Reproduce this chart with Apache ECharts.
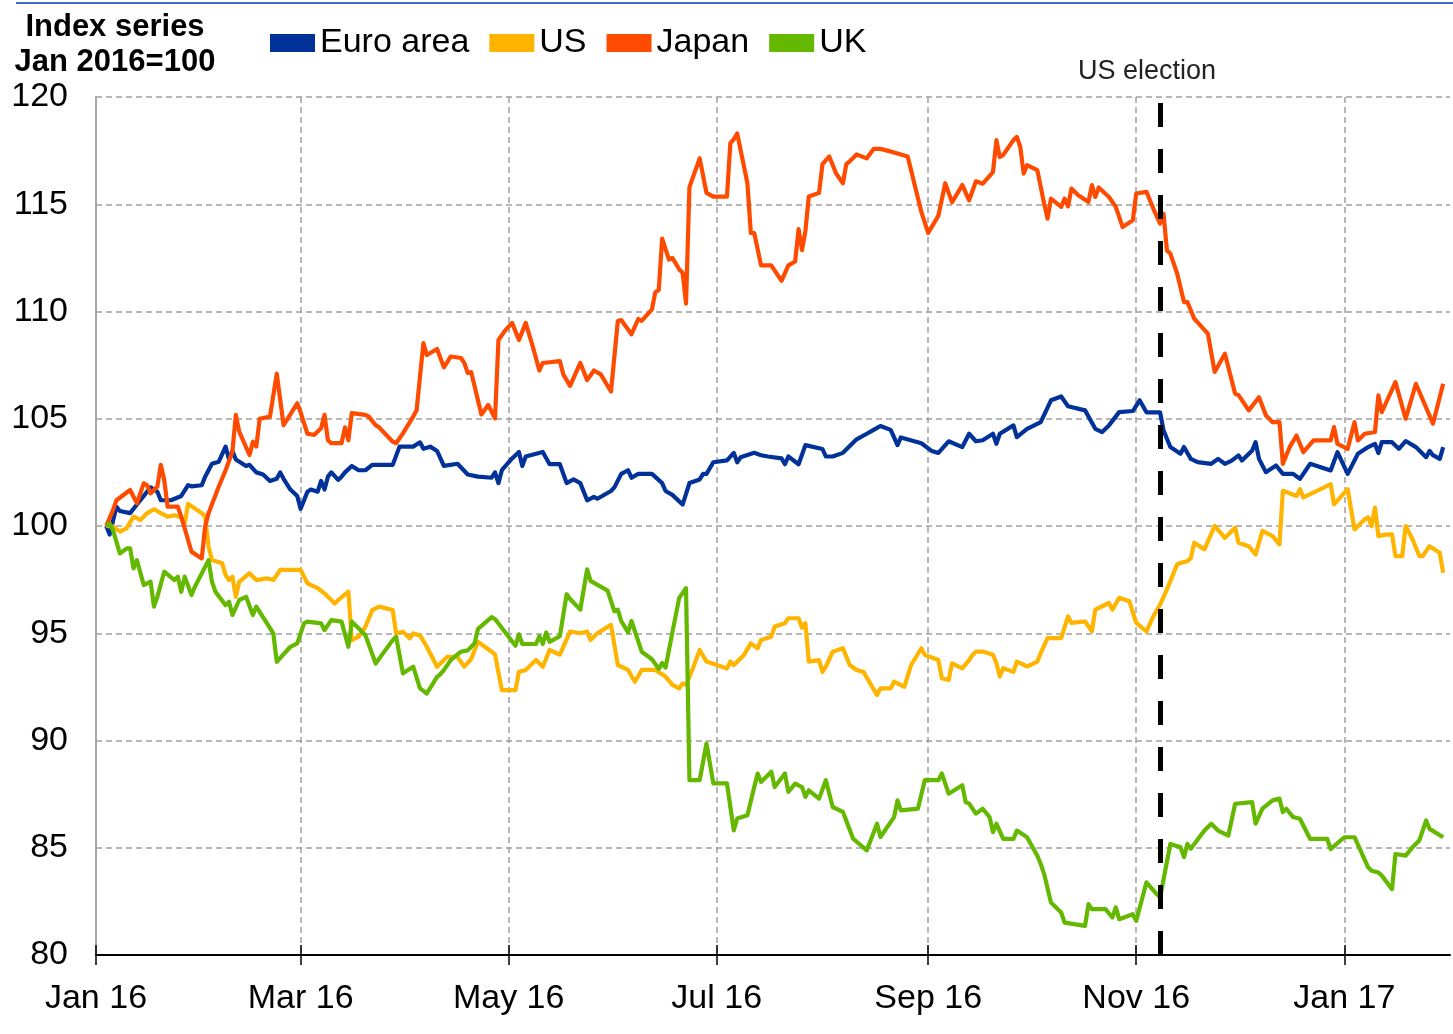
<!DOCTYPE html>
<html>
<head>
<meta charset="utf-8">
<title>Index series</title>
<script src="https://cdn.jsdelivr.net/npm/echarts@6/dist/echarts.min.js"></script>
<style>
  html, body { margin: 0; padding: 0; background: #fff; }
  #chart { width: 1453px; height: 1034px; }
</style>
</head>
<body>
<div id="chart"></div>
<script>
// x values are days counted from 1 Jan 2016
const tickDays = [0, 60, 121, 182, 244, 305, 366]
const tickLabels = ['Jan 16', 'Mar 16', 'May 16', 'Jul 16', 'Sep 16', 'Nov 16', 'Jan 17']
const electionDay = 312
const seriesNames = ['Euro area', 'US', 'Japan', 'UK']
const seriesColors = ['#003299', '#ffb400', '#ff4b00', '#65b800']

const euroArea = [
  [3,100],[4,99.6],[6,100.9],[7,100.7],[10,100.6],[12,101.0],[15,101.6],[16,101.8],[18,101.6],[19,101.2],
  [22,101.2],[25,101.4],[27,101.9],[28,101.85],[31,101.9],[32,102.3],[34,102.9],[36,103.0],[38,103.7],[39,103.1],
  [40,103.5],[41,103.1],[44,102.8],[45,102.85],[47,102.5],[49,102.4],[51,102.1],[53,102.2],[54,102.5],[55,102.2],
  [57,101.7],[59,101.4],[60,100.8],[62,101.6],[63,101.7],[65,101.6],[66,102.1],[67,101.7],[68,102.3],[69,102.5],
  [71,102.15],[72,102.3],[73,102.5],[75,102.8],[77,102.6],[79,102.6],[81,102.85],[87,102.85],[89,103.7],[93,103.7],
  [95,103.9],[96,103.6],[98,103.7],[100,103.5],[102,102.8],[106,102.9],[109,102.4],[112,102.3],[116,102.25],[117,102.5],
  [118,102.0],[119,102.6],[122,103.15],[124,103.45],[125,102.8],[126,103.24],[131,103.45],[133,102.88],[136,102.88],[138,102.0],
  [140,102.17],[142,102.0],[144,101.2],[146,101.36],[147,101.27],[151,101.63],[152,101.8],[154,102.43],[156,102.6],[157,102.25],
  [159,102.43],[163,102.43],[166,102.0],[167,101.63],[169,101.45],[170,101.3],[172,101.0],[174,102.0],[177,102.17],[178,102.43],
  [179,102.43],[181,102.97],[185,103.06],[187,103.41],[188,102.97],[189,103.2],[193,103.41],[195,103.3],[197,103.24],[201,103.15],
  [202,102.88],[203,103.24],[206,102.88],[208,103.77],[213,103.59],[214,103.24],[216,103.24],[219,103.41],[223,104.04],[226,104.3],
  [228,104.48],[230,104.66],[233,104.48],[234,104.13],[235,103.77],[236,104.13],[242,103.86],[245,103.5],[247,103.41],[250,103.95],
  [254,103.68],[256,104.3],[258,103.95],[260,104.0],[263,104.3],[264,103.83],[265,104.3],[269,104.69],[270,104.14],[273,104.53],
  [277,104.84],[280,105.86],[283,106.04],[285,105.58],[290,105.39],[293,104.53],[295,104.38],[297,104.69],[300,105.31],[304,105.36],
  [306,105.86],[308,105.3],[312,105.3],[313,104.46],[315,103.68],[318,103.37],[319,103.68],[321,103.13],[323,102.98],[327,102.9],
  [329,103.13],[331,102.9],[333,103.05],[335,103.29],[336,103.05],[339,103.52],[340,103.91],[341,103.13],[343,102.51],[346,102.82],
  [348,102.43],[351,102.43],[353,102.2],[356,102.9],[362,102.59],[364,103.44],[367,102.43],[370,103.37],[373,103.68],[375,103.83],
  [376,103.4],[377,103.91],[380,103.91],[382,103.6],[384,103.96],[387,103.68],[390,103.21],[391,103.5],[392,103.3],[394,103.13],
  [395,103.68]
]

const us = [
  [3,100],[5,99.97],[7,99.74],[9,99.9],[11,100.44],[13,100.28],[15,100.6],[17,100.78],[19,100.6],[21,100.44],
  [23,100.5],[25,100.4],[26,100.12],[27,101.03],[29,100.82],[31,100.6],[32,100.44],[33,99.04],[34,98.41],[37,98.26],
  [38,97.71],[39,97.48],[40,97.64],[41,96.7],[42,97.4],[45,97.8],[47,97.48],[50,97.56],[52,97.48],[54,97.95],
  [60,97.95],[62,97.33],[65,97.1],[67,96.86],[70,96.39],[71,96.55],[74,96.94],[75,94.68],[77,94.84],[79,95.3],
  [81,96.08],[83,96.24],[87,96.08],[88,94.99],[90,95.07],[92,94.76],[93,94.99],[95,94.9],[97,94.37],[100,93.44],
  [103,93.9],[106,93.9],[108,93.44],[110,93.8],[111,94.21],[112,94.6],[116,94.14],[117,94.0],[119,92.35],[123,92.35],
  [124,93.2],[126,93.29],[129,93.75],[131,93.44],[133,94.22],[136,94.0],[139,95.08],[142,95.0],[144,95.08],[145,94.69],
  [147,95.0],[151,95.39],[153,93.52],[156,93.29],[158,92.74],[160,93.29],[164,93.29],[167,92.98],[169,92.59],[171,92.43],
  [172,92.66],[173,92.59],[175,93.36],[177,94.22],[179,93.68],[182,93.52],[185,93.36],[186,93.68],[187,93.52],[190,93.99],
  [192,94.53],[194,94.3],[195,94.69],[198,94.84],[199,95.31],[202,95.47],[203,95.7],[206,95.7],[207,95.25],[208,95.47],
  [209,93.68],[212,93.75],[213,93.2],[214,93.44],[216,94.14],[219,94.3],[221,93.52],[223,93.29],[225,93.2],[229,92.12],
  [230,92.43],[233,92.43],[234,92.74],[235,92.66],[237,92.5],[239,93.52],[242,94.3],[243,93.99],[247,93.75],[248,92.9],
  [250,92.82],[251,93.6],[254,93.36],[256,93.75],[257,93.99],[258,94.14],[260,94.15],[263,94.0],[264,93.6],[265,92.98],
  [266,93.37],[269,93.2],[270,93.68],[273,93.45],[276,93.68],[277,94.07],[279,94.77],[283,94.77],[285,95.79],[286,95.48],
  [290,95.55],[292,95.09],[293,96.1],[297,96.41],[298,96.1],[300,96.65],[303,96.49],[305,95.48],[308,95.09],[310,95.79],
  [312,96.33],[314,97.04],[317,98.21],[318,98.28],[320,98.36],[321,98.5],[322,99.22],[325,98.91],[328,100.0],[331,99.45],
  [334,99.92],[335,99.22],[338,99.06],[340,98.67],[342,99.77],[345,99.53],[347,99.14],[348,101.64],[352,101.4],[353,101.72],
  [354,101.33],[358,101.64],[362,101.95],[363,101.01],[367,101.72],[369,99.84],[372,100.31],[373,100.4],[374,100.0],[375,100.86],
  [376,99.53],[378,99.6],[380,99.61],[381,98.6],[383,98.6],[384,100.0],[386,99.38],[388,98.6],[389,98.6],[391,99.06],
  [394,98.75],[395,97.82]
]

const japan = [
  [3,100],[5,100.75],[6,101.2],[10,101.68],[12,101.06],[14,101.99],[15,101.9],[16,101.52],[18,101.84],[19,102.85],
  [20,102.15],[21,100.9],[24,100.9],[25,100.44],[28,98.8],[29,98.7],[31,98.49],[32,99.97],[33,100.6],[36,101.84],
  [38,102.6],[40,103.47],[41,105.18],[42,104.4],[45,103.31],[46,103.93],[47,103.7],[48,105.0],[51,105.1],[53,107.1],
  [55,104.7],[59,105.72],[60,105.3],[62,104.3],[64,104.25],[66,104.56],[67,105.18],[68,104.0],[69,103.86],[72,103.86],
  [73,104.6],[74,104.0],[75,105.26],[79,105.18],[80,105.1],[82,104.7],[83,104.6],[87,103.93],[88,103.86],[90,104.32],
  [93,105.1],[94,105.4],[96,108.53],[97,107.97],[100,108.25],[102,107.4],[104,107.9],[107,107.83],[108,107.6],[109,107.13],
  [110,107.18],[113,105.2],[115,105.64],[117,105.02],[118,108.67],[120,109.12],[122,109.47],[124,108.67],[126,109.47],[128,108.4],
  [130,107.25],[131,107.6],[136,107.69],[137,107.07],[139,106.53],[142,107.6],[144,106.8],[146,107.25],[148,107.07],[151,106.27],
  [153,109.56],[154,109.6],[157,108.94],[159,109.65],[160,109.56],[163,110.1],[164,110.9],[165,111.0],[166,113.4],[168,112.42],
  [169,112.5],[171,111.97],[172,111.8],[173,110.37],[174,115.8],[177,117.14],[179,115.53],[181,115.36],[185,115.36],[186,117.85],
  [187,118.03],[188,118.3],[191,115.98],[192,113.66],[193,113.66],[195,112.15],[198,112.15],[201,111.43],[203,112.15],[205,112.33],
  [206,113.84],[207,112.86],[208,113.75],[209,115.36],[212,115.53],[213,116.87],[215,117.23],[217,116.43],[219,115.98],[220,116.87],
  [221,117.0],[223,117.32],[226,117.14],[228,117.58],[230,117.58],[232,117.5],[234,117.41],[236,117.32],[238,117.23],[242,114.64],
  [244,113.66],[247,114.47],[249,115.98],[251,115.09],[254,115.9],[256,115.18],[258,116.07],[260,115.96],[263,116.5],[264,117.99],
  [265,117.2],[266,117.3],[269,117.99],[270,118.14],[271,117.67],[272,116.43],[273,116.82],[276,116.59],[278,115.03],[279,114.33],
  [280,115.26],[283,114.88],[284,115.26],[285,114.9],[286,115.73],[288,115.42],[291,115.11],[292,115.89],[293,115.34],[294,115.78],
  [297,115.34],[299,114.88],[301,113.94],[304,114.25],[305,115.5],[308,115.58],[310,114.8],[312,114.1],[313,114.56],[314,112.85],
  [315,112.7],[317,111.77],[319,110.44],[320,110.44],[322,109.67],[326,108.97],[328,107.18],[331,108.03],[334,106.17],[335,106.1],
  [338,105.39],[341,106.0],[343,105.16],[345,104.84],[347,104.84],[348,102.9],[350,103.68],[352,104.22],[354,103.44],[357,103.99],
  [362,103.99],[363,104.61],[364,103.83],[367,103.6],[369,104.84],[370,103.99],[372,104.3],[375,104.38],[376,106.09],[377,105.31],
  [381,106.71],[384,105.0],[387,106.63],[392,104.77],[395,106.63]
]

const uk = [
  [3,100],[4,100.12],[5,99.8],[7,98.72],[9,98.96],[10,98.96],[11,98.02],[12,98.41],[14,97.25],[16,97.4],
  [17,96.24],[18,96.7],[20,97.87],[23,97.48],[24,97.64],[25,96.93],[26,97.64],[28,96.78],[29,97.17],[33,98.41],
  [34,97.4],[35,96.94],[38,96.31],[39,96.47],[40,95.85],[42,96.55],[44,96.7],[46,95.85],[47,96.24],[52,94.99],
  [53,93.67],[57,94.37],[59,94.53],[61,95.46],[62,95.54],[66,95.46],[67,95.15],[69,95.61],[72,95.54],[74,94.37],
  [75,95.54],[77,95.23],[79,94.91],[82,93.59],[87,94.68],[88,94.84],[90,93.13],[93,93.44],[95,92.43],[97,92.19],
  [100,92.97],[101,93.1],[102,93.28],[104,93.75],[107,94.14],[109,94.2],[111,94.53],[112,95.2],[116,95.75],[117,95.66],
  [123,94.42],[124,94.95],[125,94.5],[129,94.5],[130,94.86],[131,94.5],[132,95.04],[133,94.6],[136,94.86],[138,96.82],
  [139,96.6],[142,96.1],[144,97.98],[145,97.44],[150,96.99],[152,96.02],[153,96.1],[154,95.57],[156,95.04],[157,95.57],
  [160,94.14],[163,93.79],[165,93.34],[166,93.61],[167,93.4],[169,95.04],[171,96.65],[173,97.1],[174,88.15],[177,88.15],
  [179,89.86],[181,88.0],[185,88.0],[187,85.81],[188,86.36],[191,86.51],[193,87.83],[194,88.46],[195,88.07],[198,88.54],
  [199,87.83],[202,88.46],[203,87.6],[205,87.99],[207,87.83],[208,87.37],[209,87.68],[212,87.29],[214,88.15],[216,86.9],
  [219,86.67],[222,85.42],[226,84.88],[229,86.12],[230,85.5],[234,86.43],[235,87.21],[236,86.74],[241,86.82],[243,88.15],
  [247,88.15],[248,88.46],[250,87.52],[254,87.91],[255,87.13],[256,87.06],[258,86.59],[260,86.82],[262,86.43],[263,85.73],
  [264,86.12],[266,85.41],[269,85.41],[270,85.8],[273,85.49],[276,84.63],[277,84.24],[278,83.78],[280,82.45],[283,81.98],
  [284,81.51],[290,81.36],[291,82.37],[292,82.14],[296,82.14],[298,81.75],[299,82.22],[300,81.67],[304,81.9],[305,81.59],
  [308,83.39],[311,82.84],[312,82.68],[315,85.18],[318,85.02],[319,84.56],[320,85.18],[321,84.95],[325,85.8],[327,86.12],
  [329,85.8],[332,85.57],[334,87.05],[339,87.13],[340,86.12],[342,86.82],[345,87.21],[347,87.29],[348,86.66],[349,86.82],
  [351,86.43],[353,86.35],[356,85.41],[361,85.41],[362,84.94],[366,85.49],[369,85.49],[373,84.09],[374,83.93],[376,83.85],
  [377,83.7],[380,83.07],[381,84.71],[384,84.63],[386,85.02],[388,85.34],[390,86.27],[391,85.88],[395,85.49]
]

const seriesData = [euroArea, us, japan, uk]
const font = '"Liberation Sans", Arial, sans-serif'

const chart = echarts.init(document.getElementById('chart'))

const series = seriesNames.map((name, i) => ({
  name: name,
  type: 'line',
  data: seriesData[i],
  color: seriesColors[i],
  showSymbol: false,
  symbol: 'none',
  lineStyle: { width: 4.2, color: seriesColors[i], join: 'round' }
}))

// US election marker
series[3].markLine = {
  silent: true,
  symbol: 'none',
  animation: false,
  lineStyle: { color: '#000', width: 5, type: [24, 22] },
  label: {
    show: true,
    position: 'end',
    formatter: 'US election',
    fontSize: 27,
    color: '#222',
    fontFamily: font,
    distance: 12,
    offset: [-13, 0]
  },
  data: [{ xAxis: electionDay }]
}

chart.setOption({
  animation: false,
  backgroundColor: '#fff',
  textStyle: { fontFamily: font },
  title: {
    text: 'Index series\nJan 2016=100',
    left: 115,
    top: 10,
    padding: 0,
    textAlign: 'center',
    textStyle: { fontSize: 31, fontWeight: 'bold', color: '#000', lineHeight: 35, fontFamily: font }
  },
  legend: {
    left: 270,
    top: 26,
    padding: 0,
    itemGap: 20,
    itemWidth: 45,
    itemHeight: 18,
    icon: 'rect',
    textStyle: { fontSize: 34, color: '#000', fontFamily: font },
    data: seriesNames
  },
  graphic: [{
    type: 'line',
    shape: { x1: 16, y1: 3, x2: 1453, y2: 3 },
    style: { stroke: '#4170c0', lineWidth: 2 }
  }],
  grid: { left: 96, right: 3, top: 97, bottom: 79 },
  xAxis: [{
    type: 'value',
    min: 0,
    max: 397,
    position: 'bottom',
    axisLine: { show: true, onZero: false, lineStyle: { color: '#000', width: 2 } },
    axisTick: { show: true, length: 10, customValues: tickDays, lineStyle: { color: '#000', width: 1.5 } },
    axisLabel: {
      customValues: tickDays,
      formatter: v => tickLabels[tickDays.indexOf(v)],
      fontSize: 34,
      color: '#000',
      margin: 27,
      fontFamily: font
    },
    splitLine: { show: true, lineStyle: { color: '#a0a0a0', width: 1.5, type: [6, 4] } }
  }, {
    // ticks poking up inside the plot
    type: 'value',
    min: 0,
    max: 397,
    position: 'bottom',
    axisLine: { show: false, onZero: false },
    axisTick: { show: true, inside: true, length: 10, customValues: tickDays, lineStyle: { color: '#000', width: 1.5 } },
    axisLabel: { show: false },
    splitLine: { show: false }
  }],
  yAxis: {
    type: 'value',
    min: 80,
    max: 120,
    interval: 5,
    axisLine: { show: true, lineStyle: { color: '#a6a6a6', width: 2 } },
    axisTick: { show: false },
    axisLabel: { fontSize: 34, color: '#000', margin: 28, fontFamily: font },
    splitLine: { show: true, lineStyle: { color: '#a0a0a0', width: 1.5, type: [6, 4] } }
  },
  series: series
})
</script>
</body>
</html>
